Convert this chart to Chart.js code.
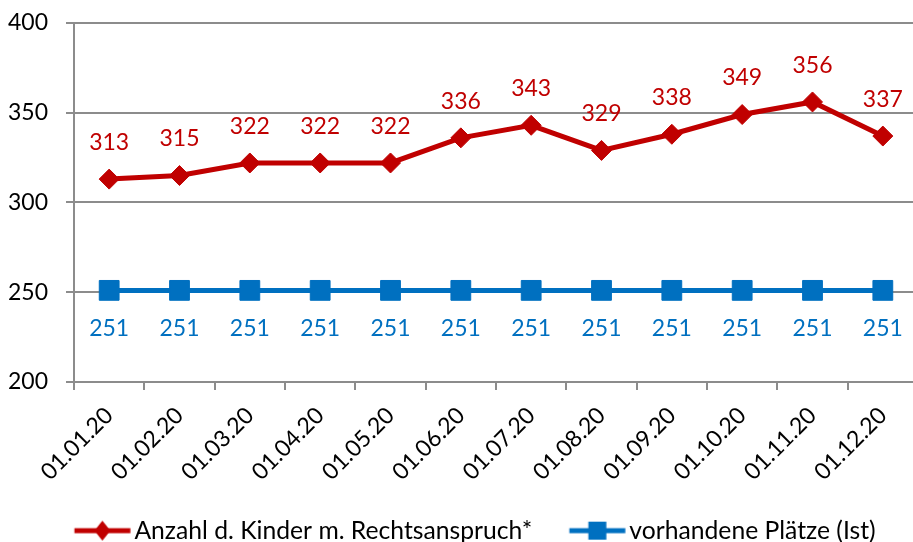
<!DOCTYPE html>
<html>
<head>
<meta charset="utf-8">
<script src="https://cdn.jsdelivr.net/npm/chart.js@4"></script>
<style>
  html, body { margin: 0; padding: 0; overflow: hidden; background: #fff; }
  #wrap { position: relative; width: 933px; height: 553px; }
</style>
</head>
<body>
<div id="wrap"><canvas id="kitaChart"></canvas></div>
<script>
const labels = ['01.01.20', '01.02.20', '01.03.20', '01.04.20', '01.05.20', '01.06.20',
                '01.07.20', '01.08.20', '01.09.20', '01.10.20', '01.11.20', '01.12.20'];
const kinder = [313, 315, 322, 322, 322, 336, 343, 329, 338, 349, 356, 337];
const plaetze = [251, 251, 251, 251, 251, 251, 251, 251, 251, 251, 251, 251];
const seriesNames = ['Anzahl d. Kinder m. Rechtsanspruch*', 'vorhandene Plätze (Ist)'];

const RED = '#C00000';
const BLUE = '#0070C0';
const GRID = '#8c8c8c';

Chart.defaults.font.family = 'Lato';

// line+marker picture for the legend (transparent room on the left keeps the spacing)
function legendIcon(color, square) {
  const c = document.createElement('canvas');
  c.width = 110; c.height = 22;
  const g = c.getContext('2d');
  g.translate(39.67, 0);
  g.strokeStyle = color;
  g.fillStyle = color;
  g.lineWidth = 5;
  g.beginPath(); g.moveTo(0, 11); g.lineTo(56, 11); g.stroke();
  if (square) {
    g.fillRect(19, 2, 18, 18);
  } else {
    g.beginPath();
    g.moveTo(28, 1); g.lineTo(36, 11); g.lineTo(28, 21); g.lineTo(20, 11);
    g.closePath(); g.fill();
  }
  return c;
}
const icons = [legendIcon(RED, false), legendIcon(BLUE, true)];
const labelShift = [-36.5, 38];

const valueLabels = {
  id: 'valueLabels',
  afterDatasetsDraw(chart) {
    const ctx = chart.ctx;
    ctx.save();
    ctx.font = '23px Lato';
    ctx.textAlign = 'center';
    ctx.textBaseline = 'middle';
    chart.data.datasets.forEach((ds, i) => {
      ctx.fillStyle = ds.borderColor;
      chart.getDatasetMeta(i).data.forEach((pt, j) => {
        ctx.fillText(ds.data[j], pt.x, pt.y + labelShift[i]);
      });
    });
    ctx.restore();
  }
};

new Chart(document.getElementById('kitaChart'), {
  type: 'line',
  data: {
    labels: labels,
    datasets: [{
      label: seriesNames[0],
      data: kinder,
      borderColor: RED,
      backgroundColor: RED,
      borderWidth: 5,
      pointStyle: 'rectRot',
      pointRadius: 10,
      pointBorderWidth: 1,
      tension: 0
    }, {
      label: seriesNames[1],
      data: plaetze,
      borderColor: BLUE,
      backgroundColor: BLUE,
      borderWidth: 5,
      pointStyle: 'rect',
      pointRadius: 14,
      pointBorderWidth: 1,
      tension: 0
    }]
  },
  options: {
    responsive: true,
    maintainAspectRatio: false,
    animation: false,
    layout: { padding: { top: 23, left: 0, right: 0, bottom: 0 } },
    scales: {
      x: {
        offset: true,
        grid: { display: true, drawOnChartArea: false, offset: true, color: GRID, lineWidth: 2, tickLength: 8 },
        border: { color: GRID, width: 2 },
        ticks: { color: '#000', font: { size: 23 }, minRotation: 45, maxRotation: 45, padding: 12, labelOffset: 0 },
        afterFit: s => { s.height = 116.4; s.paddingLeft = 0; s.paddingRight = 0; }
      },
      y: {
        min: 200, max: 400,
        grid: { color: GRID, lineWidth: 2, tickLength: 8 },
        border: { color: GRID, width: 2 },
        ticks: { stepSize: 50, color: '#000', font: { size: 23 }, padding: 18 },
        afterFit: s => { s.width = 74; s.paddingTop = 0; s.paddingBottom = 0; }
      },
      yRight: {
        position: 'right',
        grid: { display: false },
        border: { display: false },
        ticks: { display: false },
        afterFit: s => { s.width = 9; }
      }
    },
    plugins: {
      legend: {
        position: 'bottom',
        labels: {
          usePointStyle: true,
          pointStyleWidth: 64.65,
          boxHeight: 21,
          padding: 20,
          color: '#000',
          font: { size: 24.7 },
          generateLabels: chart => chart.data.datasets.map((ds, i) => ({
            text: ds.label,
            fillStyle: ds.borderColor,
            strokeStyle: ds.borderColor,
            lineWidth: 0,
            pointStyle: icons[i],
            fontColor: '#000',
            hidden: false,
            datasetIndex: i
          }))
        }
      },
      tooltip: { enabled: false }
    }
  },
  plugins: [valueLabels]
});
</script>
</body>
</html>
